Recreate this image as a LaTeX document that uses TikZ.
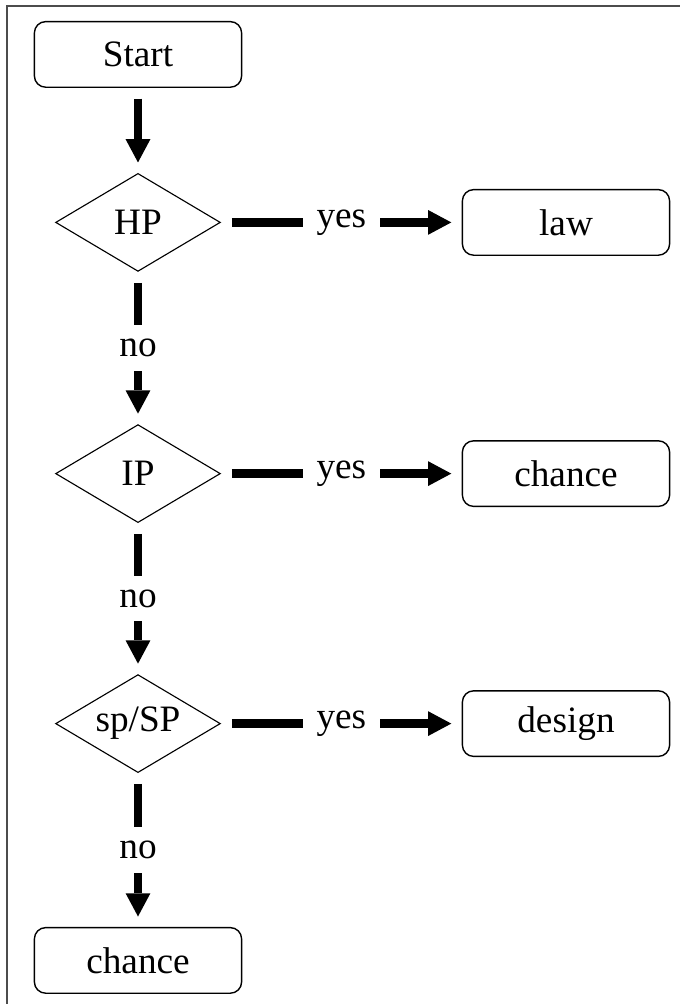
\documentclass[tikz,border=0pt]{standalone}
\usepackage{fontspec}
\setmainfont{Liberation Serif}
\usetikzlibrary{arrows.meta,shapes.geometric}

\begin{document}
\begin{tikzpicture}[every node/.style={font=\fontsize{26.5}{32}\selectfont},
	box/.style={draw, rounded corners=8pt, line width=1pt, minimum width=5.18cm, minimum height=1.64cm},
	decide/.style={draw, diamond, aspect=1.7, inner sep=0pt, line width=0.8pt, minimum width=4.12cm, minimum height=2.45cm},
	flow/.style={line width=6.4pt, -{Triangle[length=0.58cm, width=0.62cm, line width=0pt]}, shorten <=0.27cm, shorten >=0.26cm},
	tag/.style={fill=white, inner sep=0.34cm}]
	\useasboundingbox (0,0) rectangle (17,-25.1);
	% frame, only top and left edge
	\draw[black!70, line width=1.2pt] (17,-0.15) -- (0.175,-0.15) -- (0.175,-25.1);
	% left column
	\node[box] (start) at (3.45,-1.36) {Start};
	\node[decide] (hp) at (3.45,-5.56) {HP};
	\node[decide] (ip) at (3.45,-11.84) {IP};
	\node[decide] (sp) at (3.45,-18.09) {sp/SP};
	\node[box] (chance2) at (3.45,-24.01) {chance};
	% right column
	\node[box] (law) at (14.15,-5.56) {law};
	\node[box] (chance1) at (14.15,-11.84) {chance};
	\node[box] (design) at (14.15,-18.09) {design};
	% connectors
	\draw[flow] (start) -- (hp);
	\draw[flow] (hp) -- node[tag] (yes1) {yes} (law);
	\draw[flow] (ip) -- node[tag] (yes2) {yes} (chance1);
	\draw[flow] (sp) -- node[tag] (yes3) {yes} (design);
	\draw[flow] (hp) -- node[tag] (no1) {no} (ip);
	\draw[flow] (ip) -- node[tag] (no2) {no} (sp);
	\draw[flow] (sp) -- node[tag] (no3) {no} (chance2);
\end{tikzpicture}
\end{document}
